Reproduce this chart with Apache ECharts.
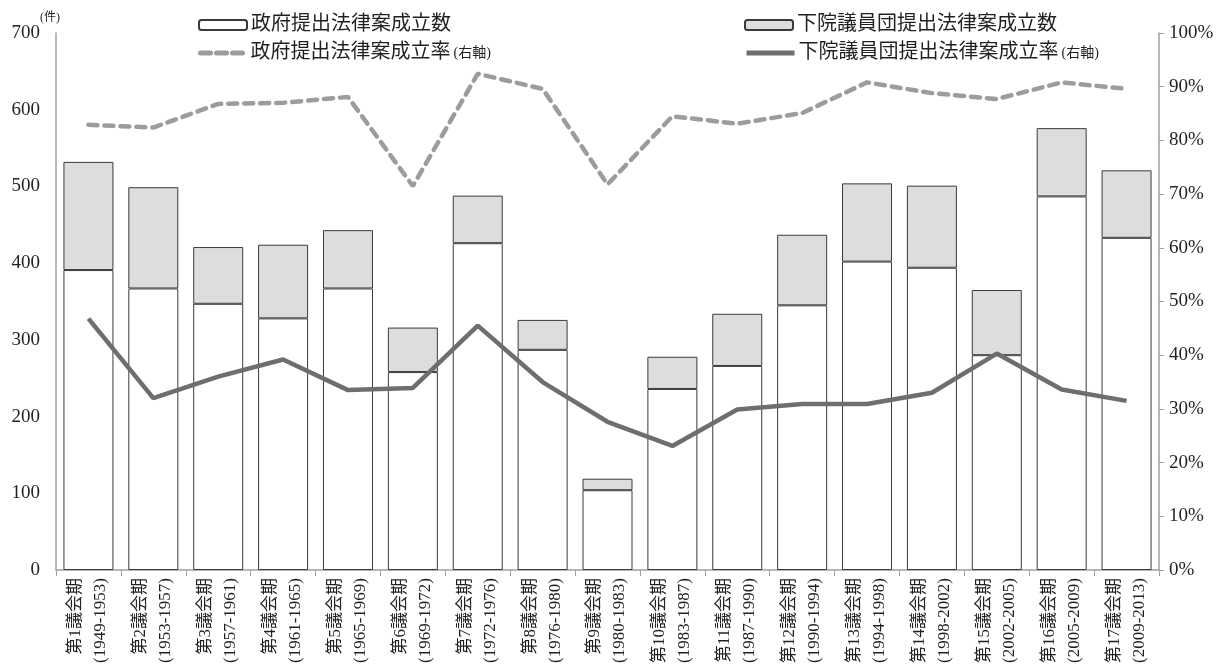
<!DOCTYPE html>
<html>
<head>
<meta charset="utf-8">
<script src="https://cdn.jsdelivr.net/npm/echarts@6/dist/echarts.min.js"></script>
<style>
  html, body { margin: 0; padding: 0; background: #fff; }
  #chart { width: 1232px; height: 666px; }
</style>
</head>
<body>
<div id="chart"></div>
<script>
// 議会期と期間
const sessions = ['第1議会期','第2議会期','第3議会期','第4議会期','第5議会期','第6議会期','第7議会期','第8議会期','第9議会期','第10議会期','第11議会期','第12議会期','第13議会期','第14議会期','第15議会期','第16議会期','第17議会期'];
const years = ['(1949-1953)','(1953-1957)','(1957-1961)','(1961-1965)','(1965-1969)','(1969-1972)','(1972-1976)','(1976-1980)','(1980-1983)','(1983-1987)','(1987-1990)','(1990-1994)','(1994-1998)','(1998-2002)','(2002-2005)','(2005-2009)','(2009-2013)'];

// 成立数（件）
const govPassed = [391, 367, 347, 328, 367, 258, 426, 287, 104, 236, 266, 345, 402, 394, 280, 487, 433];
const deputyPassed = [141, 132, 74, 96, 76, 58, 62, 39, 15, 42, 68, 92, 102, 107, 85, 89, 88];

// 成立率（%）
const govRate = [82.9, 82.4, 86.8, 87.0, 88.1, 71.5, 92.4, 89.6, 71.8, 84.5, 83.1, 85.1, 90.8, 88.8, 87.7, 90.8, 89.6];
const deputyRate = [46.8, 32.0, 36.0, 39.2, 33.5, 33.9, 45.5, 35.0, 27.6, 23.1, 29.9, 30.9, 30.9, 33.0, 40.3, 33.6, 31.5];

// 軸目盛
const countTicks = { min: 0, max: 700, interval: 100 };
const rateTicks = { min: 0, max: 100, interval: 10 };

const names = ['政府提出法律案成立数', '下院議員団提出法律案成立数', '政府提出法律案成立率', '下院議員団提出法律案成立率'];
const rightAxisNote = '(右軸)';

const categories = sessions.map((s, i) => s + '\n' + years[i]);

const FONT = "'Liberation Serif', 'Noto Sans CJK JP', serif";
const TEXT = '#231f20';
const AXIS = '#a0a0a0';
const GOV_LINE = '#9b9c9e';
const DEP_LINE = '#6d6e70';

// 凡例を1項目ずつ配置する
function legendAt(name, left, top, width, lineStyle) {
  const lg = {
    data: [name],
    left: left,
    top: top,
    itemWidth: width,
    itemHeight: 10,
    itemGap: 0,
    selectedMode: false,
    padding: 0,
    formatter: function (n) {
      return n.indexOf('率') >= 0 ? '{m|' + n + '}{s|' + rightAxisNote + '}' : '{m|' + n + '}';
    },
    textStyle: {
      color: TEXT,
      fontFamily: FONT,
      padding: [0, 0, 0, -1],
      rich: {
        m: { fontSize: 20, fontFamily: FONT, color: TEXT, verticalAlign: 'middle' },
        s: { fontSize: 14, fontFamily: FONT, color: TEXT, verticalAlign: 'middle', padding: [0, 0, 0, 3] }
      }
    }
  };
  if (lineStyle) {
    lg.itemStyle = { opacity: 0 };
    lg.lineStyle = lineStyle;
  }
  return lg;
}

const chart = echarts.init(document.getElementById('chart'), null, { renderer: 'canvas' });

chart.setOption({
  animation: false,
  backgroundColor: '#ffffff',
  textStyle: { fontFamily: FONT },
  grid: { left: 56, right: 73, top: 33, bottom: 94, containLabel: false },
  legend: [
    legendAt(names[0], 198, 15, 48),
    legendAt(names[2], 198, 43, 46, { color: GOV_LINE, width: 5, type: [10, 6], cap: 'round', inactiveColor: GOV_LINE }),
    legendAt(names[1], 744, 15, 48),
    legendAt(names[3], 744, 43, 48, { color: DEP_LINE, width: 5, inactiveColor: DEP_LINE })
  ],
  xAxis: {
    type: 'category',
    data: categories,
    boundaryGap: true,
    axisLine: { show: true, lineStyle: { color: AXIS, width: 1.5 } },
    axisTick: { show: true, alignWithLabel: false, inside: false, length: 6, lineStyle: { color: AXIS } },
    axisLabel: {
      rotate: 90,
      interval: 0,
      margin: 8,
      color: TEXT,
      fontFamily: FONT,
      fontSize: 17,
      lineHeight: 25
    }
  },
  yAxis: [
    {
      type: 'value',
      min: countTicks.min,
      max: countTicks.max,
      interval: countTicks.interval,
      name: '(件)',
      nameLocation: 'end',
      nameGap: 8,
      nameTextStyle: { color: TEXT, fontFamily: FONT, fontSize: 12, padding: [0, 12, 0, 0] },
      axisLine: { show: true, lineStyle: { color: AXIS, width: 1.5 } },
      axisTick: { show: false },
      splitLine: { show: false },
      axisLabel: { color: TEXT, fontFamily: FONT, fontSize: 19, margin: 16 }
    },
    {
      type: 'value',
      position: 'right',
      min: rateTicks.min,
      max: rateTicks.max,
      interval: rateTicks.interval,
      axisLine: { show: true, lineStyle: { color: AXIS, width: 1.5 } },
      axisTick: { show: true, inside: false, length: 5, lineStyle: { color: AXIS } },
      splitLine: { show: false },
      axisLabel: { color: TEXT, fontFamily: FONT, fontSize: 19, margin: 10, formatter: '{value}%' }
    }
  ],
  series: [
    {
      name: names[0],
      type: 'bar',
      stack: 'passed',
      barWidth: 50,
      data: govPassed,
      itemStyle: { color: '#ffffff', borderColor: '#3a3a3a', borderWidth: 1 },
      z: 2
    },
    {
      name: names[1],
      type: 'bar',
      stack: 'passed',
      barWidth: 50,
      data: deputyPassed,
      itemStyle: { color: '#dcdddf', borderColor: '#3a3a3a', borderWidth: 1 },
      z: 2
    },
    {
      name: names[2],
      type: 'line',
      yAxisIndex: 1,
      data: govRate,
      symbol: 'none',
      lineStyle: { color: GOV_LINE, width: 4.5, type: [9, 7], cap: 'round' },
      itemStyle: { color: GOV_LINE },
      z: 5
    },
    {
      name: names[3],
      type: 'line',
      yAxisIndex: 1,
      data: deputyRate,
      symbol: 'none',
      lineStyle: { color: DEP_LINE, width: 4.5 },
      itemStyle: { color: DEP_LINE },
      z: 5
    }
  ]
});
</script>
</body>
</html>
